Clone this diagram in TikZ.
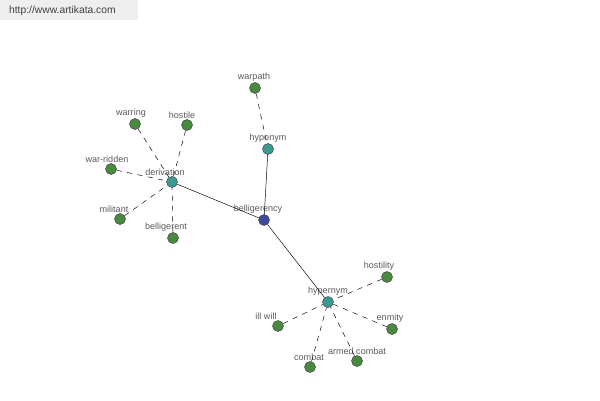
\documentclass[tikz,border=0pt]{standalone}
\usepackage{fontspec}
\setmainfont{Liberation Sans}
\usetikzlibrary{positioning}
\definecolor{hubblue}{HTML}{3B4A9A}
\definecolor{relteal}{HTML}{3A9A90}
\definecolor{leafgreen}{HTML}{4A8A40}
\definecolor{bannergray}{HTML}{EEEEEE}
\tikzset{
  word/.style={
    circle, draw=black!75, thin, inner sep=0pt,
    minimum size=0.33cm, fill=#1
  },
  lbl/.style={
    font=\fontsize{7.7}{8}\selectfont, text=black!65,
    inner sep=1pt, label distance=-0.5pt, xshift=#1*0.3mm
  },
  lbl/.default=0,
  link/.style={draw=black, thin},
  rel/.style={draw=black, thin, dash pattern=on 4.5pt off 4.5pt}
}

\begin{document}
\begin{tikzpicture}[x=0.03cm, y=-0.03cm]
  \useasboundingbox (0,0) rectangle (600,400);
  % site banner
  \fill[bannergray] (0,0) rectangle (138,20);
  \node[font=\fontsize{8.8}{10}\selectfont, text=black!75, anchor=west]
    (site) at (5,11) {http://www.artikata.com};

  % main word and relation hubs
  \node[word=hubblue, label={[lbl=-6]above:belligerency}] (belligerency) at (264,220) {};
  \node[word=relteal, label={[lbl=-7]above:derivation}] (derivation) at (172,182) {};
  \node[word=relteal, label={[lbl]above:hyponym}] (hyponym) at (268,149) {};
  \node[word=relteal, label={[lbl]above:hypernym}] (hypernym) at (328,302) {};
  \draw[link] (belligerency) -- (derivation);
  \draw[link] (belligerency) -- (hyponym);
  \draw[link] (belligerency) -- (hypernym);

  % derivation
  \foreach \nm/\x/\y/\dx/\txt in {
    warring/135/124/-4/warring, hostile/187/125/-5/hostile,
    warridden/111/169/-4/war-ridden, militant/120/219/-6/militant,
    belligerent/173/238/-7/belligerent}{
    \node[word=leafgreen, label={[lbl=\dx]above:\txt}] (\nm) at (\x,\y) {};
    \draw[rel] (\nm) -- (derivation);
  }

  % hyponym
  \node[word=leafgreen, label={[lbl=-1]above:warpath}] (warpath) at (255,88) {};
  \draw[rel] (warpath) -- (hyponym);

  % hypernym
  \foreach \nm/\x/\y/\dx/\txt in {
    hostility/387/277/-8/hostility, illwill/278/326/-12/ill will,
    enmity/392/329/-2/enmity, combat/310/367/-1/combat,
    armedcombat/357/361/0/armed combat}{
    \node[word=leafgreen, label={[lbl=\dx]above:\txt}] (\nm) at (\x,\y) {};
    \draw[rel] (\nm) -- (hypernym);
  }
\end{tikzpicture}
\end{document}
